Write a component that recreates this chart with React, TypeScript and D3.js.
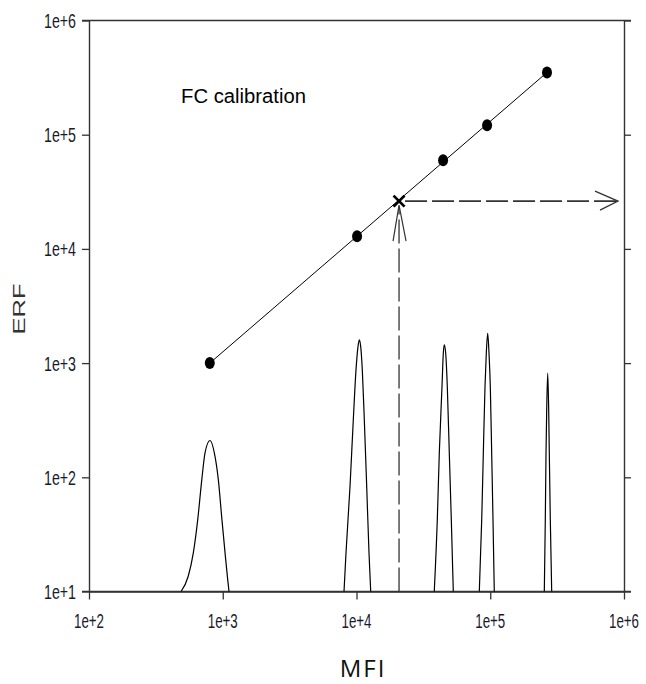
import { useRef, useEffect } from "react";
import * as d3 from "d3";

// calibration beads (MFI -> ERF)
const calMFI = [800, 10100, 44400, 94700, 265600];
const calERF = [1000, 12900, 59700, 120800, 351000];

// unknown sample
const unknownMFI = 20800;
const unknownERF = 26200;

// bead histograms, drawn on the same axes: [MFI, height]
const peak1 = [[488, 10], [552, 13.6], [603, 21.9], [650, 42.6], [697, 95], [737, 164], [803, 210], [865, 164], [927, 95], [986, 42.6], [1040, 21.9], [1089, 12.7], [1114, 10]];
const peak2 = [[8064, 10], [8347, 21.8], [8942, 83], [9465, 319], [9915, 872], [10261, 1394], [10493, 1595], [10750, 1394], [11050, 872], [11440, 319], [11920, 83], [12400, 21.8], [12770, 10]];
const peak3 = [[38150, 10], [40190, 42.6], [41600, 163], [43580, 623], [44570, 1221], [45330, 1443], [46440, 1221], [47740, 623], [49410, 163], [51150, 42.6], [52940, 10]];
const peak4 = [[82820, 10], [86340, 42.6], [88760, 163], [91370, 623], [93430, 1221], [95700, 1825], [97880, 1221], [100100, 623], [102500, 163], [104850, 42.6], [107200, 10]];
const peak5 = [[253600, 10], [258000, 42.6], [261200, 163], [264300, 390], [268900, 816], [273500, 390], [276400, 163], [281200, 42.6], [288000, 10]];
const peaks = [peak1, peak2, peak3, peak4, peak5];

const xTicks = [1e2, 1e3, 1e4, 1e5, 1e6];
const yTicks = [1e1, 1e2, 1e3, 1e4, 1e5, 1e6];

const App = () => {
  const svgRef = useRef(null);

  useEffect(() => {
    const svg = d3.select(svgRef.current);
    svg.selectAll("*").remove();

    const width = 646;
    const height = 684;
    const margin = { top: 20.5, right: 22, bottom: 92.5, left: 89 };

    const x = d3
      .scaleLog()
      .domain([1e2, 1e6])
      .range([margin.left, width - margin.right]);

    const y = d3
      .scaleLog()
      .domain([1e1, 1e6])
      .range([height - margin.bottom, margin.top]);

    const fmt = d3.format(".0e");
    const axisColor = "#333";
    const labelFont = "'Liberation Sans', Arial, sans-serif";

    // frame: top line
    svg
      .append("line")
      .attr("x1", x(1e2) - 7)
      .attr("x2", x(1e6) + 7)
      .attr("y1", y(1e6))
      .attr("y2", y(1e6))
      .attr("stroke", axisColor)
      .attr("stroke-width", 1.6);

    const left = svg
      .append("g")
      .attr("transform", `translate(${margin.left},0)`)
      .call(d3.axisLeft(y).tickValues(yTicks).tickFormat(() => "").tickSize(7).tickSizeOuter(0));
    left.select(".domain").attr("stroke", axisColor).attr("stroke-width", 1.4);
    left.selectAll(".tick line").attr("stroke", axisColor).attr("stroke-width", 1.3);

    const right = svg
      .append("g")
      .attr("transform", `translate(${x(1e6)},0)`)
      .call(d3.axisRight(y).tickValues(yTicks).tickFormat(() => "").tickSize(7).tickSizeOuter(0));
    right.select(".domain").attr("stroke", axisColor).attr("stroke-width", 1.4);
    right.selectAll(".tick line").attr("stroke", axisColor).attr("stroke-width", 1.3);

    const bottom = svg
      .append("g")
      .attr("transform", `translate(0,${y(1e1)})`)
      .call(d3.axisBottom(x).tickValues(xTicks).tickFormat(() => "").tickSize(8).tickSizeOuter(0));
    bottom.select(".domain").attr("stroke", axisColor).attr("stroke-width", 1.6);
    bottom.selectAll(".tick line").attr("stroke", axisColor).attr("stroke-width", 1.3);
    svg
      .append("line")
      .attr("x1", x(1e2) - 7)
      .attr("x2", x(1e6) + 7)
      .attr("y1", y(1e1))
      .attr("y2", y(1e1))
      .attr("stroke", axisColor)
      .attr("stroke-width", 1.6);

    // tick labels
    svg
      .append("g")
      .selectAll("text")
      .data(yTicks)
      .join("text")
      .attr("x", margin.left - 13)
      .attr("y", (d) => y(d) + 7.5)
      .attr("text-anchor", "end")
      .attr("font-family", labelFont)
      .attr("font-size", 21)
      .attr("textLength", 32)
      .attr("lengthAdjust", "spacingAndGlyphs")
      .attr("fill", "#1a1a2a")
      .text((d) => fmt(d));

    svg
      .append("g")
      .selectAll("text")
      .data(xTicks)
      .join("text")
      .attr("x", (d) => x(d))
      .attr("y", y(1e1) + 36)
      .attr("text-anchor", "middle")
      .attr("font-family", labelFont)
      .attr("font-size", 20)
      .attr("textLength", 30)
      .attr("lengthAdjust", "spacingAndGlyphs")
      .attr("fill", "#1a1a2a")
      .text((d) => fmt(d));

    // axis titles
    svg
      .append("text")
      .attr("transform", `translate(25,${(y(1e6) + y(1e1)) / 2 + 3}) rotate(-90)`)
      .attr("text-anchor", "middle")
      .attr("font-family", labelFont)
      .attr("font-size", 16.5)
      .attr("textLength", 51)
      .attr("lengthAdjust", "spacingAndGlyphs")
      .attr("fill", "#333")
      .text("ERF");

    svg
      .append("text")
      .attr("x", 363)
      .attr("y", 677)
      .attr("text-anchor", "middle")
      .attr("font-family", "'Open Sans', 'Noto Sans', sans-serif")
      .attr("font-size", 24)
      .attr("letter-spacing", 2)
      .attr("fill", "#111")
      .text("MFI");

    svg
      .append("text")
      .attr("x", 181)
      .attr("y", 103)
      .attr("font-family", labelFont)
      .attr("font-size", 20)
      .attr("textLength", 125)
      .attr("lengthAdjust", "spacingAndGlyphs")
      .attr("fill", "#000")
      .text("FC calibration");

    // histograms
    const peakLine = d3
      .line()
      .x((d) => x(d[0]))
      .y((d) => y(d[1]))
      .curve(d3.curveMonotoneX);

    svg
      .append("g")
      .selectAll("path")
      .data(peaks)
      .join("path")
      .attr("d", (d) => peakLine(d))
      .attr("fill", "none")
      .attr("stroke", "#000")
      .attr("stroke-width", 1.2);

    // calibration line from first to last bead
    const last = calMFI.length - 1;
    svg
      .append("line")
      .attr("x1", x(calMFI[0]))
      .attr("y1", y(calERF[0]))
      .attr("x2", x(calMFI[last]))
      .attr("y2", y(calERF[last]))
      .attr("stroke", "#000")
      .attr("stroke-width", 1);

    svg
      .append("g")
      .selectAll("ellipse")
      .data(calMFI)
      .join("ellipse")
      .attr("cx", (d) => x(d))
      .attr("cy", (d, i) => y(calERF[i]))
      .attr("rx", 5)
      .attr("ry", 6)
      .attr("fill", "#000");

    // dashed read-off arrows
    const ux = x(unknownMFI);
    const uy = y(unknownERF);
    const dashColor = "#333";

    svg
      .append("line")
      .attr("x1", ux)
      .attr("x2", ux)
      .attr("y1", y(1e1))
      .attr("y2", uy + 6)
      .attr("stroke", dashColor)
      .attr("stroke-width", 1.3)
      .attr("stroke-dasharray", "24,5");
    svg
      .append("path")
      .attr("d", `M${ux - 6},${uy + 40}L${ux},${uy + 4}L${ux + 7},${uy + 40}`)
      .attr("fill", "none")
      .attr("stroke", dashColor)
      .attr("stroke-width", 1.2);

    const tipX = x(1e6) - 6;
    svg
      .append("line")
      .attr("x1", ux + 6)
      .attr("x2", tipX)
      .attr("y1", uy)
      .attr("y2", uy)
      .attr("stroke", dashColor)
      .attr("stroke-width", 1.8)
      .attr("stroke-dasharray", "22,5");
    svg
      .append("path")
      .attr("d", `M${tipX - 23},${uy - 10}L${tipX},${uy}L${tipX - 18},${uy + 9}`)
      .attr("fill", "none")
      .attr("stroke", dashColor)
      .attr("stroke-width", 1.3);

    // unknown sample marker
    const s = 5.5;
    svg
      .append("path")
      .attr("d", `M${ux - s},${uy - s}L${ux + s},${uy + s}M${ux - s},${uy + s}L${ux + s},${uy - s}`)
      .attr("stroke", "#000")
      .attr("stroke-width", 2.8);
  }, []);

  return (
    <svg
      ref={svgRef}
      width="646"
      height="684"
      style={{ position: "absolute", left: 0, top: 0, background: "#fff" }}
    />
  );
};

export default App;
